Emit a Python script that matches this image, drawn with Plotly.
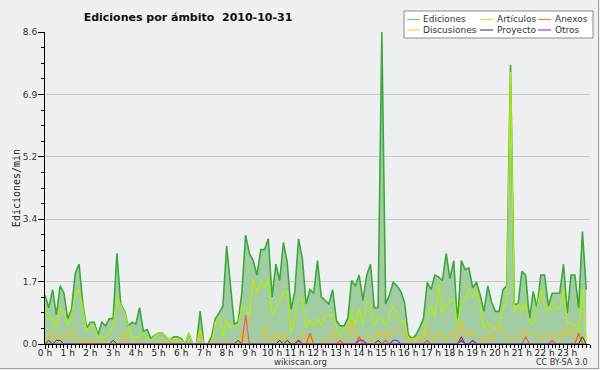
import plotly.graph_objects as go

# ---------------- data (10-minute slots, 2010-10-31) ----------------
hours = [i / 6 for i in range(144)]

ediciones = [
    1.35, 1.0, 1.5, 0.8, 1.6, 1.4, 0.7, 0.95, 1.95, 2.2,
    1.1, 0.45, 0.6, 0.6, 0.25, 0.6, 0.5, 0.7, 0.7, 2.5,
    1.1, 0.9, 0.5, 0.6, 0.55, 1.0, 0.35, 0.4, 0.15, 0.25,
    0.3, 0.3, 0.2, 0.1, 0.2, 0.2, 0.15, 0.0, 0.3, 0.0,
    0.0, 0.9, 0.0, 0.0, 0.2, 0.7, 0.85, 1.05, 2.7, 1.7,
    0.55, 0.6, 1.4, 3.0, 2.5, 2.3, 1.9, 2.6, 2.6, 2.9,
    1.3, 2.2, 1.75, 2.8, 2.25, 0.95, 1.45, 2.9, 2.35, 1.1,
    1.5, 1.4, 2.3, 1.3, 1.2, 1.1, 1.5, 0.65, 0.5, 0.5,
    0.7, 1.75, 1.6, 1.9, 1.2, 1.9, 2.2, 1.0, 1.0, 8.6,
    1.1, 1.35, 1.7, 1.6, 1.45, 1.15, 0.25, 0.15, 0.25, 0.45,
    0.7, 1.7, 1.5, 1.9, 1.85, 1.75, 2.5, 1.8, 2.3, 0.55,
    2.3, 2.05, 2.1, 1.55, 1.7, 1.35, 0.9, 1.6, 1.15, 0.9,
    0.9, 1.5, 1.6, 7.7, 1.1, 1.1, 2.0, 1.9, 0.7, 1.45,
    1.0, 1.9, 1.9, 1.05, 1.4, 1.4, 1.4, 2.2, 0.85, 1.9,
    1.9, 1.0, 3.1, 1.5,
]

articulos = [
    1.0, 0.7, 0.7, 0.45, 1.0, 0.85, 0.5, 0.75, 1.4, 1.5,
    1.0, 0.35, 0.5, 0.5, 0.2, 0.2, 0.2, 0.3, 0.5, 1.3,
    1.05, 0.85, 0.5, 0.15, 0.2, 0.2, 0.3, 0.15, 0.1, 0.25,
    0.3, 0.3, 0.2, 0.1, 0.15, 0.15, 0.1, 0.0, 0.3, 0.0,
    0.0, 0.4, 0.0, 0.0, 0.0, 0.6, 0.75, 0.2, 0.65, 0.45,
    0.5, 0.5, 1.05, 1.0, 0.75, 1.8, 1.4, 1.7, 1.55, 1.8,
    0.8, 0.95, 1.2, 1.45, 1.45, 0.3, 0.75, 1.25, 1.25, 0.45,
    0.65, 0.5, 0.7, 0.5, 0.8, 0.8, 0.8, 0.5, 0.2, 0.45,
    0.45, 0.9, 0.5, 1.0, 0.5, 1.2, 1.05, 0.5, 0.75, 0.7,
    0.5, 0.8, 1.05, 0.8, 0.6, 0.65, 0.1, 0.15, 0.1, 0.2,
    0.25, 0.8, 1.05, 0.75, 1.65, 0.85, 1.05, 1.2, 1.25, 0.5,
    1.2, 1.2, 1.5, 1.3, 1.5, 1.05, 0.4, 0.6, 0.5, 0.4,
    0.5, 0.95, 1.15, 7.5, 0.9, 1.1, 0.9, 1.15, 0.6, 0.55,
    1.0, 1.5, 1.0, 0.9, 1.15, 0.95, 1.0, 1.5, 0.6, 0.55,
    0.5, 0.35, 1.5, 0.05,
]

discusiones = [
    0.05, 0.15, 0.4, 0.1, 0.2, 0.3, 0.15, 0.4, 0.25, 0.0,
    0.15, 0.1, 0.0, 0.1, 0.0, 0.1, 0.0, 0.0, 0.0, 0.1,
    0.05, 0.35, 0.05, 0.0, 0.0, 0.1, 0.0, 0.0, 0.0, 0.0,
    0.1, 0.1, 0.0, 0.0, 0.05, 0.0, 0.0, 0.0, 0.0, 0.0,
    0.0, 0.3, 0.0, 0.0, 0.0, 0.1, 0.0, 0.0, 0.1, 0.0,
    0.0, 0.0, 0.3, 0.1, 0.0, 0.0, 0.0, 0.0, 0.5, 0.15,
    0.1, 0.3, 0.1, 0.3, 0.1, 0.0, 0.1, 0.0, 0.3, 0.1,
    0.15, 0.0, 0.0, 0.0, 0.1, 0.1, 0.4, 0.1, 0.0, 0.0,
    0.05, 0.65, 0.35, 0.1, 0.15, 0.25, 0.1, 0.1, 0.4, 0.2,
    0.35, 0.2, 0.4, 0.4, 0.35, 0.35, 0.1, 0.1, 0.1, 0.1,
    0.3, 0.4, 0.25, 0.1, 0.35, 0.2, 0.1, 0.3, 0.4, 0.1,
    0.6, 0.25, 0.25, 0.4, 0.0, 0.0, 0.1, 0.3, 0.1, 0.3,
    0.55, 0.3, 0.2, 0.15, 0.15, 0.2, 0.4, 0.3, 0.3, 0.3,
    0.25, 0.15, 0.25, 0.3, 0.2, 0.25, 0.15, 0.4, 0.2, 0.5,
    0.2, 0.1, 0.1, 0.0,
]

anexos = [0.0] * 144
for _i, _v in [(53, 0.8), (67, 0.1), (70, 0.3), (78, 0.1), (83, 0.2), (90, 0.1),
               (101, 0.1), (110, 0.1), (127, 0.2), (134, 0.1), (141, 0.3)]:
    anexos[_i] = _v

proyecto = [0.0] * 144
for _i, _v in [(1, 0.1), (3, 0.1), (4, 0.1), (18, 0.1), (51, 0.1), (62, 0.1),
               (64, 0.1), (88, 0.1), (110, 0.2), (142, 0.2)]:
    proyecto[_i] = _v

otros = [0.0] * 144
for _i, _v in [(67, 0.1), (83, 0.1), (84, 0.1), (92, 0.1), (93, 0.1),
               (110, 0.1), (113, 0.1)]:
    otros[_i] = _v

hour_ticks = list(range(24))
hour_labels = [f"{h} h" for h in hour_ticks]
y_ticks = [0, 1.72, 3.44, 5.16, 6.88, 8.6]
y_labels = ["0.0", "1.7", "3.4", "5.2", "6.9", "8.6"]

series_names = ["Ediciones", "Artículos", "Anexos", "Discusiones", "Proyecto", "Otros"]

# ---------------- figure ----------------
W, H = 600, 370
ML, MR, MT, MB = 45, 10, 32, 26
PW, PH = W - ML - MR, H - MT - MB

def px(xp):
    return (xp - ML) / PW

def py(yp):
    return (H - MB - yp) / PH

FONT = "DejaVu Sans"
colors = {
    "Ediciones": "#3CA93C",
    "Artículos": "#B2EC12",
    "Discusiones": "#F2BE12",
    "Anexos": "#FF5E1F",
    "Proyecto": "#3A3A3A",
    "Otros": "#8B2BE8",
}
legend_colors = {
    "Ediciones": "#7DCF7D",
    "Artículos": "#C8F040",
    "Discusiones": "#FFD23C",
    "Anexos": "#FF8040",
    "Proyecto": "#555555",
    "Otros": "#9A3CFF",
}

fig = go.Figure()
fig.add_trace(go.Scatter(x=hours, y=ediciones, name="Ediciones", mode="lines",
                         line=dict(color=colors["Ediciones"], width=1.6),
                         fill="tozeroy", fillcolor="#A2CDA2"))
fig.add_trace(go.Scatter(x=hours, y=articulos, name="Artículos", mode="lines",
                         line=dict(color=colors["Artículos"], width=1.3)))
fig.add_trace(go.Scatter(x=hours, y=discusiones, name="Discusiones", mode="lines",
                         line=dict(color=colors["Discusiones"], width=1.2)))
fig.add_trace(go.Scatter(x=hours, y=anexos, name="Anexos", mode="lines",
                         line=dict(color=colors["Anexos"], width=1.2)))
fig.add_trace(go.Scatter(x=hours, y=proyecto, name="Proyecto", mode="lines",
                         line=dict(color=colors["Proyecto"], width=1.0)))
fig.add_trace(go.Scatter(x=hours, y=otros, name="Otros", mode="lines",
                         line=dict(color=colors["Otros"], width=1.2)))

fig.update_layout(
    width=W, height=H,
    margin=dict(l=ML, r=MR, t=MT, b=MB, autoexpand=False),
    paper_bgcolor="#F0F0F0",
    plot_bgcolor="#EEEFF1",
    showlegend=False,
    font=dict(family=FONT, color="#222222", size=10),
    title=dict(text="<b>Ediciones por ámbito  2010-10-31</b>",
               x=188 / W, xanchor="center", xref="container",
               y=1 - 17 / H, yanchor="middle", yref="container",
               font=dict(family=FONT, size=11, color="#111111")),
)

fig.update_xaxes(
    range=[0, 24], showgrid=False, zeroline=False,
    showline=True, linecolor="#000000", linewidth=1,
    tickmode="array", tickvals=hour_ticks, ticktext=hour_labels,
    tickangle=0, ticklabelstandoff=-4,
    ticks="outside", ticklen=4, tickcolor="#000000", tickwidth=1,
    tickfont=dict(family=FONT, size=9, color="#222222"),
    minor=dict(ticks="outside", ticklen=3, tickcolor="#000000",
               dtick=1 / 6, tick0=0, showgrid=False),
)
fig.update_yaxes(
    range=[0, 8.6], zeroline=False,
    showline=True, linecolor="#000000", linewidth=1,
    tickmode="array", tickvals=y_ticks, ticktext=y_labels,
    ticklabelstandoff=-1,
    ticks="outside", ticklen=6, tickcolor="#000000", tickwidth=1,
    showgrid=True, gridcolor="#C8C8C8", gridwidth=1,
    tickfont=dict(family=FONT, size=9, color="#333333"),
    minor=dict(ticks="outside", ticklen=3, tickcolor="#000000",
               dtick=0.43, tick0=0, showgrid=False),
    title=dict(text="Ediciones/min", standoff=0,
               font=dict(family="DejaVu Sans Mono", size=10, color="#222222")),
)

# legend box (drawn as shapes + text)
lx0, lx1, ly0, ly1 = 404, 593, 11, 38
fig.add_shape(type="rect", xref="paper", yref="paper",
              x0=px(lx0), x1=px(lx1), y0=py(ly1), y1=py(ly0),
              fillcolor="#FFFFFF", line=dict(color="#8C8C8C", width=1), layer="above")
cols = [(407, 423), (480, 497), (538, 555)]
rows = [19.5, 30]
for k, name in enumerate(series_names):
    r, c = divmod(k, 3)
    sx, tx = cols[c]
    yy = rows[r]
    fig.add_shape(type="line", xref="paper", yref="paper",
                  x0=px(sx), x1=px(sx + 13), y0=py(yy), y1=py(yy),
                  line=dict(color=legend_colors[name], width=1.2), layer="above")
    fig.add_annotation(text=name, xref="paper", yref="paper",
                       x=px(tx), y=py(yy), xanchor="left", yanchor="middle",
                       showarrow=False, xshift=-2,
                       font=dict(family=FONT, size=9, color="#333333"))

# footer texts
fig.add_annotation(text="wikiscan.org", xref="paper", yref="paper",
                   x=px(300), y=py(362), xanchor="center", yanchor="middle",
                   showarrow=False, font=dict(family=FONT, size=8.5, color="#333333"))
fig.add_annotation(text="CC BY-SA 3.0", xref="paper", yref="paper",
                   x=px(590), y=py(362), xanchor="right", yanchor="middle",
                   showarrow=False, font=dict(family=FONT, size=8, color="#333333"))

# outer frame (right and bottom edges)
fig.add_shape(type="line", xref="paper", yref="paper",
              x0=px(598.5), x1=px(598.5), y0=py(369), y1=py(0),
              line=dict(color="#A0A0A0", width=1))
fig.add_shape(type="line", xref="paper", yref="paper",
              x0=px(0), x1=px(599), y0=py(368.5), y1=py(368.5),
              line=dict(color="#A0A0A0", width=1))

fig.write_html("out.html", config={"displayModeBar": False},
               post_script="document.body.style.margin='0';")
